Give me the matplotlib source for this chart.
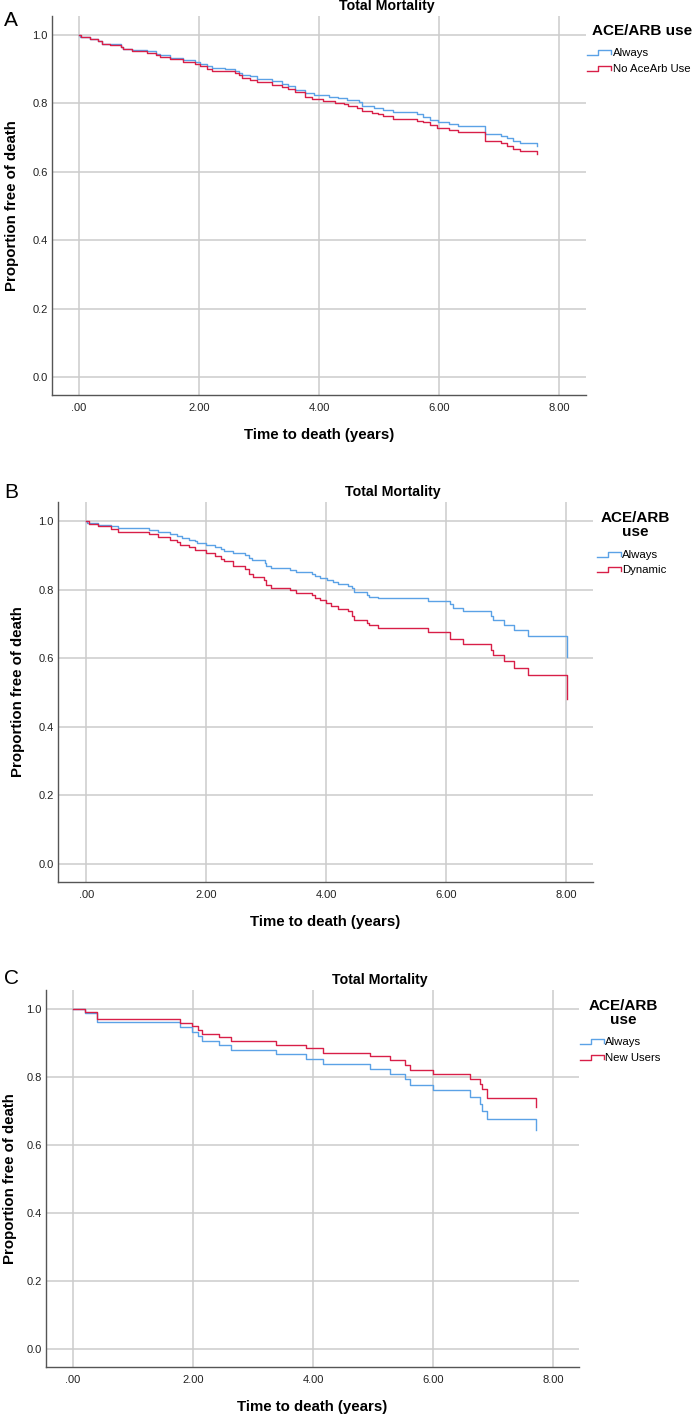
import matplotlib
matplotlib.use('Agg')
import matplotlib.pyplot as plt
from matplotlib.lines import Line2D

# --- Data ---
x_ticks = [0, 2, 4, 6, 8]
x_tick_labels = ['.00', '2.00', '4.00', '6.00', '8.00']
y_ticks = [0.0, 0.2, 0.4, 0.6, 0.8, 1.0]
y_tick_labels = ['0.0', '0.2', '0.4', '0.6', '0.8', '1.0']

# Panel A: Always vs No AceArb Use
a_always_t = [0, 0.02, 0.19, 0.31, 0.38, 0.51, 0.70, 0.74, 0.88, 1.14, 1.29, 1.35, 1.52, 1.74, 1.93,
              2.02, 2.13, 2.21, 2.43, 2.60, 2.66, 2.71, 2.85, 2.96, 3.21, 3.38, 3.49, 3.60, 3.77, 3.91,
              4.16, 4.32, 4.46, 4.66, 4.71, 4.91, 5.07, 5.24, 5.63, 5.74, 5.85, 5.99, 6.16, 6.32, 6.77,
              7.04, 7.13, 7.24, 7.35, 7.63]
a_always_s = [1.0, 0.995, 0.988, 0.982, 0.975, 0.973, 0.966, 0.960, 0.956, 0.953, 0.946, 0.941, 0.934,
              0.928, 0.921, 0.916, 0.909, 0.904, 0.901, 0.895, 0.889, 0.884, 0.879, 0.872, 0.865, 0.858,
              0.851, 0.840, 0.832, 0.826, 0.820, 0.816, 0.811, 0.804, 0.794, 0.787, 0.781, 0.775, 0.768,
              0.760, 0.753, 0.747, 0.740, 0.734, 0.711, 0.704, 0.698, 0.691, 0.683, 0.676]
a_none_t = [0, 0.03, 0.19, 0.31, 0.38, 0.41, 0.51, 0.70, 0.74, 0.88, 1.14, 1.29, 1.35, 1.52, 1.74, 1.93,
            2.02, 2.13, 2.21, 2.60, 2.66, 2.71, 2.85, 2.96, 3.21, 3.38, 3.49, 3.60, 3.77, 3.88, 4.07,
            4.27, 4.41, 4.49, 4.63, 4.71, 4.88, 4.99, 5.07, 5.24, 5.63, 5.74, 5.85, 5.96, 6.16, 6.32,
            6.77, 7.04, 7.13, 7.24, 7.35, 7.63]
a_none_s = [1.0, 0.995, 0.988, 0.982, 0.975, 0.973, 0.970, 0.964, 0.958, 0.954, 0.949, 0.941, 0.936,
            0.929, 0.922, 0.915, 0.909, 0.902, 0.895, 0.889, 0.883, 0.876, 0.869, 0.862, 0.855, 0.849,
            0.842, 0.835, 0.820, 0.813, 0.807, 0.802, 0.798, 0.792, 0.787, 0.779, 0.773, 0.768, 0.763,
            0.755, 0.750, 0.745, 0.738, 0.728, 0.722, 0.717, 0.691, 0.683, 0.676, 0.668, 0.662, 0.652]

# Panel B: Always vs Dynamic
b_always_t = [0, 0.02, 0.20, 0.41, 0.53, 1.04, 1.19, 1.40, 1.51, 1.59, 1.71, 1.82, 1.84, 1.99, 2.14,
              2.25, 2.29, 2.45, 2.65, 2.72, 2.76, 2.98, 3.00, 3.08, 3.39, 3.49, 3.77, 3.81, 3.90, 4.02,
              4.11, 4.20, 4.36, 4.43, 4.47, 4.69, 4.72, 4.86, 5.70, 6.07, 6.12, 6.28, 6.75, 6.79, 6.97,
              7.13, 7.36, 8.02]
b_always_s = [1.0, 0.995, 0.989, 0.985, 0.980, 0.975, 0.969, 0.964, 0.958, 0.952, 0.946, 0.941, 0.935,
              0.930, 0.924, 0.918, 0.912, 0.908, 0.902, 0.894, 0.886, 0.879, 0.870, 0.864, 0.857, 0.851,
              0.845, 0.839, 0.833, 0.827, 0.822, 0.816, 0.810, 0.804, 0.793, 0.786, 0.780, 0.775, 0.767,
              0.757, 0.747, 0.737, 0.723, 0.712, 0.696, 0.681, 0.665, 0.605]
b_dynamic_t = [0, 0.04, 0.20, 0.41, 0.53, 1.04, 1.19, 1.40, 1.51, 1.56, 1.71, 1.82, 1.99, 2.14, 2.25,
               2.29, 2.45, 2.65, 2.72, 2.78, 2.97, 3.00, 3.08, 3.39, 3.49, 3.77, 3.82, 3.90, 4.00, 4.08,
               4.20, 4.37, 4.43, 4.47, 4.69, 4.72, 4.86, 5.70, 6.07, 6.28, 6.75, 6.79, 6.97, 7.13, 7.36,
               8.02]
b_dynamic_s = [1.0, 0.992, 0.985, 0.978, 0.969, 0.963, 0.955, 0.946, 0.939, 0.931, 0.924, 0.916, 0.907,
               0.899, 0.891, 0.883, 0.869, 0.861, 0.846, 0.837, 0.827, 0.814, 0.806, 0.798, 0.791, 0.784,
               0.775, 0.769, 0.761, 0.753, 0.745, 0.737, 0.723, 0.713, 0.704, 0.696, 0.688, 0.678, 0.656,
               0.641, 0.625, 0.610, 0.592, 0.573, 0.551, 0.482]

# Panel C: Always vs New Users
c_t = [0, 0.20, 0.40, 1.79, 1.99, 2.08, 2.15, 2.44, 2.63, 3.38, 3.89, 4.17, 4.95, 5.28, 5.53, 5.62,
       6.00, 6.62, 6.78, 6.82, 6.90, 7.71]
c_always_s = [1.0, 0.987, 0.961, 0.947, 0.932, 0.920, 0.907, 0.893, 0.880, 0.867, 0.852, 0.839, 0.824,
              0.809, 0.794, 0.777, 0.761, 0.742, 0.720, 0.699, 0.676, 0.645]
c_new_s = [1.0, 0.990, 0.970, 0.958, 0.949, 0.938, 0.928, 0.917, 0.905, 0.894, 0.884, 0.872, 0.861,
           0.849, 0.836, 0.822, 0.809, 0.794, 0.779, 0.765, 0.738, 0.711]

# --- Styling ---
W, H = 697, 1417
blue = '#5ba2e6'
red = '#d81f48'
grid_col = '#cccccc'
spine_col = '#555555'
plt.rcParams['font.family'] = ['Liberation Sans', 'DejaVu Sans']

fig = plt.figure(figsize=(W / 100, H / 100), dpi=100)


def fx(px):
    return px / W


def fy(py):
    return 1 - py / H


def draw_key(x0, y, color):
    # stair-step legend symbol, in pixel coords
    xs = [x0, x0 + 11, x0 + 11, x0 + 24, x0 + 24]
    ys = [y + 1.5, y + 1.5, y - 3.5, y - 3.5, y + 1]
    fig.add_artist(Line2D([fx(v) for v in xs], [fy(v) for v in ys], color=color, lw=1.0,
                          transform=fig.transFigure))


panels = [
    dict(letter='A', box=(52, 16, 586, 395), xlim=(-0.45, 8.45), title_x=387, title_y=6, letter_y=21,
         ylab_x=12, leg_title='ACE/ARB use', leg_title_x=642, leg_title_y=[31],
         key_x=587, entry_y=[53, 69], text_x=613,
         series=[(a_always_t, a_always_s, blue, 'Always'), (a_none_t, a_none_s, red, 'No AceArb Use')]),
    dict(letter='B', box=(58, 502, 593, 882), xlim=(-0.47, 8.45), title_x=393, title_y=492, letter_y=492,
         ylab_x=18, leg_title='ACE/ARB\nuse', leg_title_x=635, leg_title_y=[517, 532],
         key_x=597, entry_y=[555, 570], text_x=622,
         series=[(b_always_t, b_always_s, blue, 'Always'), (b_dynamic_t, b_dynamic_s, red, 'Dynamic')]),
    dict(letter='C', box=(46, 990, 579, 1367), xlim=(-0.45, 8.43), title_x=380, title_y=980, letter_y=978,
         ylab_x=10, leg_title='ACE/ARB\nuse', leg_title_x=623, leg_title_y=[1005, 1021],
         key_x=580, entry_y=[1042, 1058], text_x=605,
         series=[(c_t, c_always_s, blue, 'Always'), (c_t, c_new_s, red, 'New Users')]),
]

for p in panels:
    l, t, r, b = p['box']
    ax = fig.add_axes([fx(l), fy(b), fx(r) - fx(l), fy(t) - fy(b)])
    ax.set_xlim(*p['xlim'])
    ax.set_ylim(-0.053, 1.056)

    for v in x_ticks:
        ax.axvline(v, color=grid_col, lw=1.1, zorder=1)
    for v in y_ticks:
        ax.axhline(v, color=grid_col, lw=1.1, zorder=1)

    for ts, ss, col, name in p['series']:
        ax.step(ts, ss, where='post', color=col, lw=1.0, zorder=3)

    ax.set_xticks(x_ticks)
    ax.set_xticklabels(x_tick_labels)
    ax.set_yticks(y_ticks)
    ax.set_yticklabels(y_tick_labels)
    ax.tick_params(length=0, labelsize=8, colors='#222222', pad=6)
    ax.tick_params(axis='y', pad=3)
    for side in ['top', 'right']:
        ax.spines[side].set_visible(False)
    for side in ['left', 'bottom']:
        ax.spines[side].set_color(spine_col)
        ax.spines[side].set_linewidth(1.0)

    # labels / titles placed in pixel space
    cy = (t + b) / 2
    cx = (l + r) / 2
    fig.text(fx(p['ylab_x']), fy(cy), 'Proportion free of death', rotation=90, ha='center', va='center',
             fontsize=10.8, fontweight='bold')
    fig.text(fx(cx), fy(b + 40), 'Time to death (years)', ha='center', va='center',
             fontsize=10.8, fontweight='bold')
    fig.text(fx(p['title_x']), fy(p['title_y']), 'Total Mortality', ha='center', va='center',
             fontsize=10.2, fontweight='bold')
    fig.text(fx(4), fy(p['letter_y']), p['letter'], ha='left', va='center', fontsize=15)

    # legend
    fig.text(fx(p['leg_title_x']), fy(sum(p['leg_title_y']) / len(p['leg_title_y'])), p['leg_title'],
             ha='center', va='center', fontsize=11, fontweight='bold', linespacing=1.0)
    for (ts, ss, col, name), ey in zip(p['series'], p['entry_y']):
        draw_key(p['key_x'], ey, col)
        fig.text(fx(p['text_x']), fy(ey), name, ha='left', va='center', fontsize=8.2)

fig.savefig('out.png', dpi=100)
